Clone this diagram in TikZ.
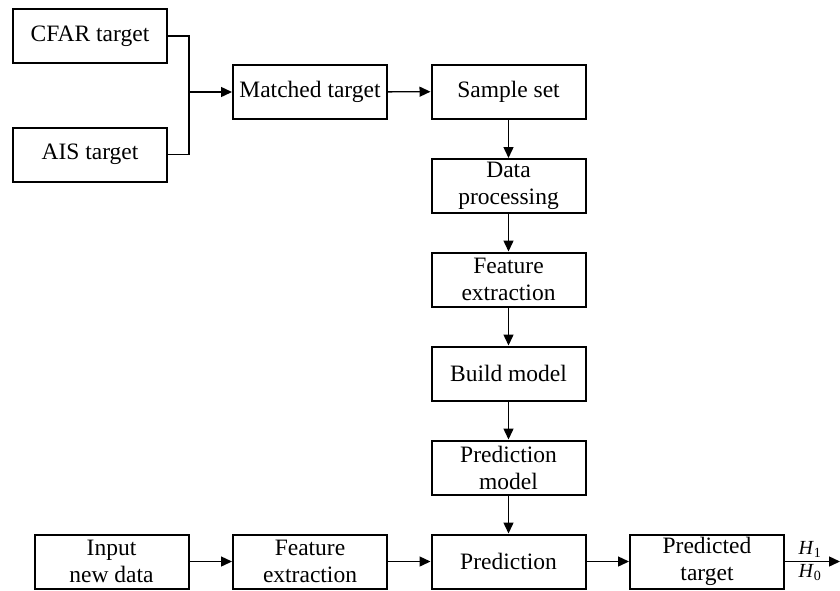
\documentclass[tikz,border=0pt]{standalone}
\usepackage{fontspec}
\setmainfont{Liberation Serif}
\usetikzlibrary{arrows.meta}
\tikzset{
  box/.style={draw, line width=2pt, minimum width=154pt, minimum height=54pt, inner sep=0pt, align=center,
    font=\fontsize{23.5}{27}\selectfont},
  conn/.style={line width=1.4pt},
  arr/.style={conn, -{Triangle[length=11pt,width=10pt]}},
}
\begin{document}
\begin{tikzpicture}[x=1pt,y=-1pt]
\useasboundingbox (0,0) rectangle (840,590);
\node[box] (cfar) at (90,36) {CFAR target};
\node[box] (ais) at (90,154.5) {AIS target};
\node[box] (matched) at (310,92) {Matched target};
\node[box] (sample) at (508.5,91.5) {Sample set};
\node[box] (data) at (508.5,186) {Data\\processing};
\node[box] (feat1) at (508.5,279.5) {Feature\\extraction};
\node[box] (build) at (508.5,373.5) {Build model};
\node[box] (pmodel) at (508.5,467.5) {Prediction\\model};
\node[box] (pred) at (508.5,561.5) {Prediction};
\node[box] (input) at (111.5,561.5) {Input\\new data};
\node[box] (feat2) at (310,561.5) {Feature\\extraction};
\node[box] (ptarget) at (707,561.5) {Predicted\\target};
\coordinate (j) at (189,92);
\coordinate (out) at (840,561.5);
\draw[conn] (cfar.east) -| (j);
\draw[conn] (ais.east) -| (j);
\draw[arr] (j) -- (matched.west);
\draw[arr] (matched) -- (sample);
\draw[arr] (sample) -- (data);
\draw[arr] (data) -- (feat1);
\draw[arr] (feat1) -- (build);
\draw[arr] (build) -- (pmodel);
\draw[arr] (pmodel) -- (pred);
\draw[arr] (input) -- (feat2);
\draw[arr] (feat2) -- (pred);
\draw[arr] (pred) -- (ptarget);
\draw[arr] (ptarget) -- (out);
\node[font=\fontsize{20}{22}\selectfont, anchor=south, inner sep=1pt] (h1) at (810,559) {\textit{H}\textsubscript{1}};
\node[font=\fontsize{20}{22}\selectfont, anchor=north, inner sep=1pt] (h0) at (810,563) {\textit{H}\textsubscript{0}};
\end{tikzpicture}
\end{document}
